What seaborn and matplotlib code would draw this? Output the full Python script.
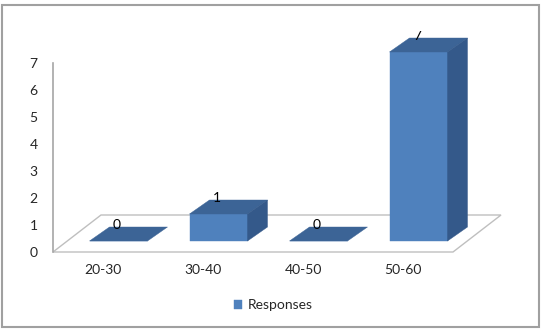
import matplotlib
matplotlib.use('Agg')
import matplotlib.pyplot as plt
import matplotlib.transforms as mtransforms
from matplotlib.patches import Polygon, Rectangle
import seaborn as sns
import pandas as pd

# Datos del grafico
age_groups = ['20-30', '30-40', '40-50', '50-60']
responses = [0, 1, 0, 7]
y_ticks = [0, 1, 2, 3, 4, 5, 6, 7]

# Colores estilo Excel 3D
front_col = '#4F81BD'
top_col = '#3C6496'
side_col = '#34598A'
floor_col = '#BFBFBF'
axis_col = '#A6A6A6'
text_col = '#262626'

sns.set_style('white')
plt.rcParams['font.family'] = ['Lato', 'DejaVu Sans']
fs = 10

W, H = 543, 329
fig = plt.figure(figsize=(W / 100, H / 100), dpi=100)
ax = fig.add_axes([53 / W, 77 / H, 400 / W, 189 / H])

df = pd.DataFrame({'edad': age_groups, 'respuestas': responses})
sns.barplot(data=df, x='edad', y='respuestas', color=front_col, width=0.58,
            saturation=1, ax=ax, label='Responses', zorder=3)
bars = list(ax.containers[0])
ax.set_xlim(-0.5, 3.5)
ax.set_ylim(0, 7)
ax.set_yticks(y_ticks)
ax.set_xlabel('')
ax.set_ylabel('')

# Desplazamientos 3D (pixeles)
off_x, off_y = 15.5, 11
dep_x, dep_y = 20, 14
shift = mtransforms.ScaledTranslation(off_x / 100, off_y / 100, fig.dpi_scale_trans)
bar_trans = ax.transData + shift

# Suelo
fl = ax.transData.transform([(-0.5, 0), (3.5, 0)])
floor_pts = [fl[0], fl[1], fl[1] + [48, 37], fl[0] + [48, 37]]
ax.add_artist(Polygon(floor_pts, closed=True, facecolor='white', edgecolor=floor_col,
                      lw=1, transform=None, zorder=1, clip_on=False))

# Barras con caras superior y lateral
for p in bars:
    p.set_transform(bar_trans)
    p.set_clip_on(False)
    p.set_edgecolor(front_col)
    p.set_linewidth(0.3)
    x0, w, h = p.get_x(), p.get_width(), p.get_height()
    fr = bar_trans.transform([(x0, 0), (x0 + w, 0), (x0 + w, h), (x0, h)])
    d = [dep_x, dep_y]
    top_pts = [fr[3], fr[2], fr[2] + d, fr[3] + d]
    ax.add_artist(Polygon(top_pts, closed=True, facecolor=top_col, edgecolor=top_col,
                          lw=0.3, transform=None, zorder=4, clip_on=False))
    if h > 0:
        side_pts = [fr[1], fr[2], fr[2] + d, fr[1] + d]
        ax.add_artist(Polygon(side_pts, closed=True, facecolor=side_col, edgecolor=side_col,
                              lw=0.3, transform=None, zorder=4, clip_on=False))

# Etiquetas de valor
clip = mtransforms.Bbox([[0, 0], [W, H - 31]])
for i, v in enumerate(responses):
    t = ax.annotate(str(v), (i, v), xytext=(14, 27), textcoords='offset pixels',
                    ha='center', va='center', fontsize=fs, color='black',
                    annotation_clip=False, zorder=6)
    t.set_clip_on(True)
    t.set_clip_box(clip)

# Ejes
for s in ['top', 'right', 'bottom']:
    ax.spines[s].set_visible(False)
ax.spines['left'].set_color(axis_col)
ax.spines['left'].set_linewidth(1.2)
ax.tick_params(axis='y', length=0, pad=11, labelsize=fs, labelcolor=text_col)
ax.tick_params(axis='x', length=0, pad=9, labelsize=fs, labelcolor=text_col)
ax.set_facecolor('none')

# Leyenda
ax.legend(loc='center', bbox_to_anchor=(273 / W, (H - 305) / H), bbox_transform=fig.transFigure,
          frameon=False, handlelength=0.6, handleheight=0.6, handletextpad=0.4,
          fontsize=fs, labelcolor=text_col)

# Borde exterior
fig.add_artist(Rectangle((2 / W, 2 / H), 537 / W, 322 / H, transform=fig.transFigure,
                         fill=False, edgecolor='#A0A0A0', lw=1.5))

fig.savefig('out.png', dpi=100)
